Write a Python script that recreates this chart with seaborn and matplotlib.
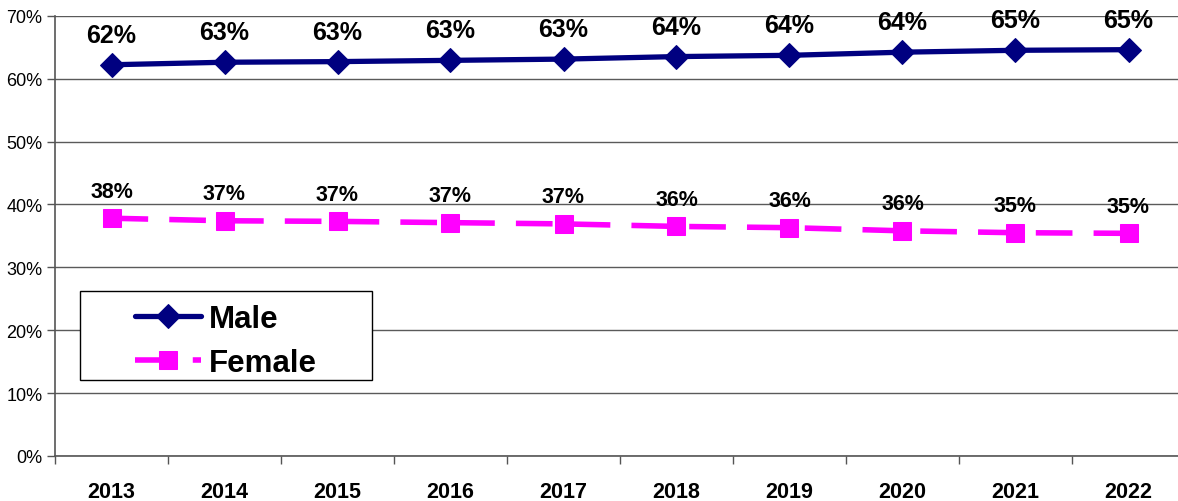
import matplotlib
matplotlib.use("Agg")
import matplotlib.pyplot as plt
import seaborn as sns
import pandas as pd
from matplotlib.ticker import FixedLocator, PercentFormatter
from matplotlib.patches import Rectangle

years = ["2013", "2014", "2015", "2016", "2017", "2018", "2019", "2020", "2021", "2022"]
male = [62.2, 62.6, 62.7, 62.9, 63.1, 63.5, 63.7, 64.2, 64.5, 64.6]
female = [37.8, 37.4, 37.3, 37.1, 36.9, 36.5, 36.3, 35.8, 35.5, 35.4]
male_labels = ["62%", "63%", "63%", "63%", "63%", "64%", "64%", "64%", "65%", "65%"]
female_labels = ["38%", "37%", "37%", "37%", "37%", "36%", "36%", "36%", "35%", "35%"]

sns.set_theme(style="white")
plt.rcParams["font.family"] = ["Liberation Sans", "DejaVu Sans"]
plt.rcParams["text.color"] = "black"
plt.rcParams["xtick.labelcolor"] = "black"
plt.rcParams["ytick.labelcolor"] = "black"

fig = plt.figure(figsize=(11.78, 5.02), dpi=100)
ax = fig.add_axes([55 / 1178, 45 / 502, 1130 / 1178, 440.3 / 502])

pos = list(range(len(years)))
df_m = pd.DataFrame({"x": pos, "y": male})
df_f = pd.DataFrame({"x": pos, "y": female})

sns.lineplot(data=df_m, x="x", y="y", ax=ax, color="#000080", linewidth=3.8,
             marker="D", markersize=12.5, markeredgecolor="#000080", label="Male", zorder=3)
sns.lineplot(data=df_f, x="x", y="y", ax=ax, color="#FF00FF", linewidth=4,
             marker="s", markersize=13, markeredgecolor="#FF00FF", label="Female", zorder=3)
ax.lines[1].set_dashes((6.6, 3.8))

for x, y, t in zip(pos, male, male_labels):
    ax.annotate(t, (x, y), xytext=(0, 21.5), textcoords="offset points",
                ha="center", va="center", fontsize=18, fontweight="bold", color="black")
for x, y, t in zip(pos, female, female_labels):
    ax.annotate(t, (x, y), xytext=(0, 19.5), textcoords="offset points",
                ha="center", va="center", fontsize=15.5, fontweight="bold", color="black")

ax.set_xlim(-0.5, len(years) - 0.5)
ax.set_ylim(0, 70)
ax.set_yticks(range(0, 71, 10))
ax.yaxis.set_major_formatter(PercentFormatter(decimals=0))
ax.set_xticks(pos)
ax.set_xticklabels(years, fontsize=15.5, fontweight="bold")
ax.xaxis.set_minor_locator(FixedLocator([p - 0.5 for p in pos] + [len(years) - 0.5]))
ax.tick_params(axis="x", which="major", length=0, pad=18)
ax.tick_params(axis="x", which="minor", length=6, width=1, color="#555555", bottom=True, direction="out")
ax.tick_params(axis="y", length=6, width=1, color="#555555", left=True, direction="out", labelsize=13, pad=3)
ax.set_xlabel("")
ax.set_ylabel("")

ax.grid(axis="y", color="#5a5a5a", linewidth=1)
ax.grid(axis="x", visible=False)
for s in ["top", "right"]:
    ax.spines[s].set_visible(False)
for s in ["left", "bottom"]:
    ax.spines[s].set_color("#555555")
    ax.spines[s].set_linewidth(1.2)

# legend frame
ax.add_patch(Rectangle((25 / 1130, 76 / 440.3), 292 / 1130, 89 / 440.3, transform=ax.transAxes,
                       facecolor="white", edgecolor="black", linewidth=1, zorder=4))
leg = ax.legend(loc="center", bbox_to_anchor=(171 / 1130, 115 / 440.3),
                prop={"size": 22.5, "weight": "bold"}, frameon=False,
                handlelength=2.1, handletextpad=0.25, borderpad=0, labelspacing=0.47,
                borderaxespad=0)
leg.set_zorder(5)

fig.savefig("out.png", dpi=100)
